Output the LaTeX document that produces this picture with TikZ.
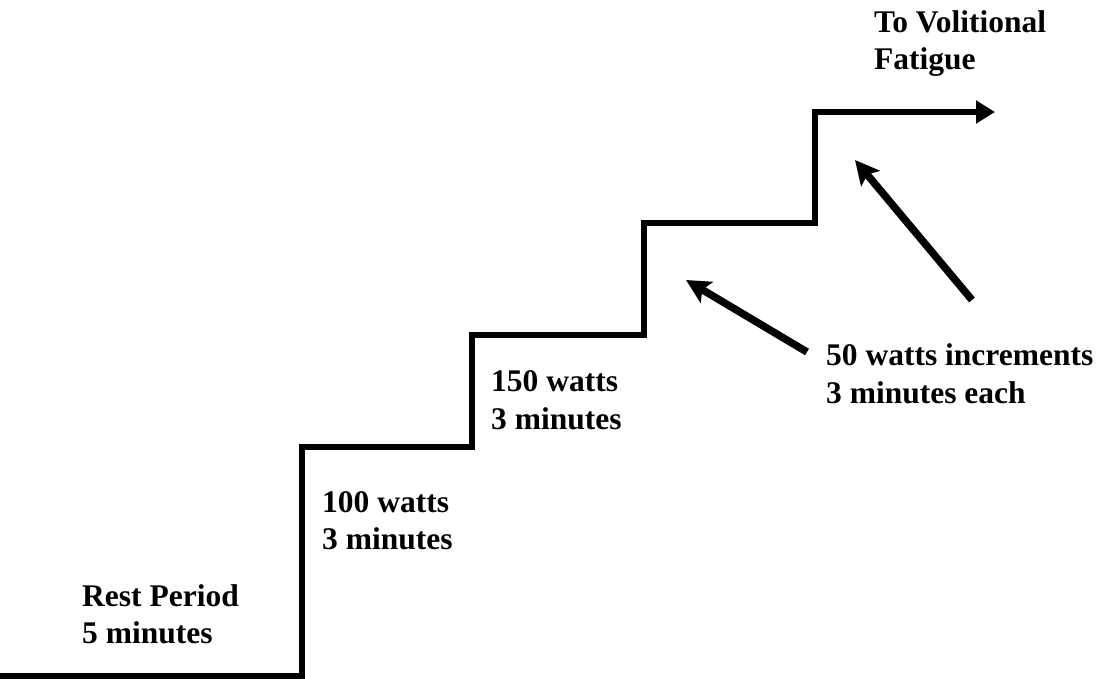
\documentclass[tikz,border=0pt]{standalone}
\usepackage{fontspec}
\setmainfont{Liberation Serif}
\usetikzlibrary{arrows.meta}
\begin{document}
\begin{tikzpicture}[x=1pt,y=-1pt,
  lbl/.style={font=\fontsize{31.5}{38}\selectfont\bfseries, align=left, anchor=base west, inner sep=0pt},
  stair/.style={line width=6pt, line join=miter, -{Triangle[length=19pt,width=22pt]}},
  pointer/.style={line width=7.5pt, -{Stealth[length=24pt,width=24pt,inset=5pt]}}]
\useasboundingbox (0,0) rectangle (1103,678);
% staircase corners
\coordinate (s0) at (0,676);
\coordinate (s1) at (302,676);
\coordinate (s2) at (302,447);
\coordinate (s3) at (472,447);
\coordinate (s4) at (472,335);
\coordinate (s5) at (644,335);
\coordinate (s6) at (644,223);
\coordinate (s7) at (815,223);
\coordinate (s8) at (815,112);
\coordinate (s9) at (995,112);
\draw[stair] (s0) -- (s1) -- (s2) -- (s3) -- (s4) -- (s5) -- (s6) -- (s7) -- (s8) -- (s9);
% pointer arrows
\coordinate (a1t) at (972,300);
\coordinate (a1h) at (855,160);
\coordinate (a2t) at (807,352);
\coordinate (a2h) at (686,280);
\draw[pointer] (a1t) -- (a1h);
\draw[pointer] (a2t) -- (a2h);
% labels
\node[lbl] (rest1) at (82,606) {Rest Period};
\node[lbl] (rest2) at (82,643) {5 minutes};
\node[lbl] (w1001) at (322,512) {100 watts};
\node[lbl] (w1002) at (322,549) {3 minutes};
\node[lbl] (w1501) at (491,391) {150 watts};
\node[lbl] (w1502) at (491,429) {3 minutes};
\node[lbl] (inc1) at (826,365) {50 watts increments};
\node[lbl] (inc2) at (826,403) {3 minutes each};
\node[lbl] (fat1) at (874,32) {To Volitional};
\node[lbl] (fat2) at (874,69) {Fatigue};
\end{tikzpicture}
\end{document}
